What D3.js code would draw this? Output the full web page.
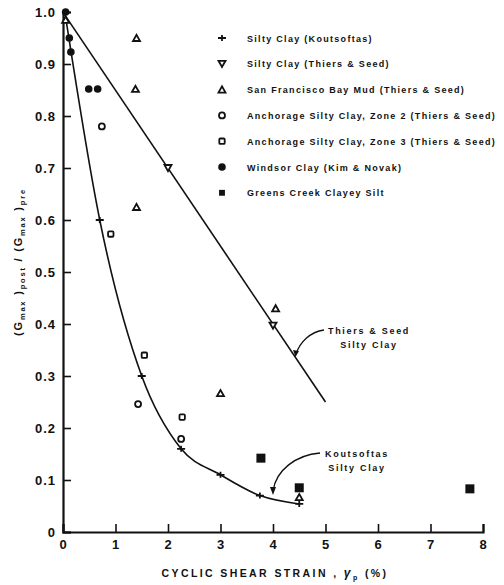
<!doctype html>
<html>
<head>
<meta charset="utf-8">
<title>Gmax ratio vs cyclic shear strain</title>
<script src="https://cdnjs.cloudflare.com/ajax/libs/d3/7.8.5/d3.min.js"></script>
<style>
  body { margin: 0; background: #fff; }
  svg text { font-family: "Liberation Sans", Arial, sans-serif; font-weight: bold; fill: #111; }
</style>
</head>
<body>
<div id="chart"></div>
<script>
// data: [strain %, ratio]
let koutsoftas = [[0.7, 0.6], [1.5, 0.3], [2.25, 0.16], [3.0, 0.11], [3.75, 0.07], [4.5, 0.054]];
let koutsoftasCurve = [[0.05, 0.99], [0.7, 0.6], [1.5, 0.3], [2.25, 0.16], [3.0, 0.11], [3.75, 0.07], [4.5, 0.054]];
let thiersSilty = [[2.0, 0.70], [4.0, 0.397]];
let thiersLine = [[0.03, 0.995], [5.0, 0.25]];
let sfBayMud = [[0.05, 0.985], [1.4, 0.95], [1.38, 0.852], [1.4, 0.625], [3.0, 0.267], [4.05, 0.43], [4.5, 0.067]];
let anchorage2 = [[0.74, 0.78], [1.43, 0.246], [2.25, 0.179]];
let anchorage3 = [[0.91, 0.573], [1.55, 0.34], [2.27, 0.221]];
let windsor = [[0.05, 1.0], [0.12, 0.95], [0.15, 0.923], [0.49, 0.852], [0.66, 0.852]];
let greensCreek = [[3.77, 0.142], [4.5, 0.085], [7.75, 0.083]];

let legendLabels = [
  "Silty Clay (Koutsoftas)",
  "Silty Clay (Thiers & Seed)",
  "San Francisco Bay Mud (Thiers & Seed)",
  "Anchorage Silty Clay, Zone 2 (Thiers & Seed)",
  "Anchorage Silty Clay, Zone 3 (Thiers & Seed)",
  "Windsor Clay (Kim & Novak)",
  "Greens Creek Clayey Silt"
];
let xTicks = [0, 1, 2, 3, 4, 5, 6, 7, 8];
let yTicks = [0, 0.1, 0.2, 0.3, 0.4, 0.5, 0.6, 0.7, 0.8, 0.9, 1.0];

let svg = d3.select("#chart").append("svg")
  .attr("width", 504)
  .attr("height", 585);

let x = d3.scaleLinear().domain([0, 8]).range([63, 483]);
let y = d3.scaleLinear().domain([0, 1]).range([532, 12]);

// axes (ticks point inward)
let yAxis = svg.append("g")
  .attr("transform", "translate(63,0)")
  .call(d3.axisLeft(y).tickValues(yTicks).tickSize(-8).tickPadding(7)
    .tickFormat(d => d === 0 ? "0" : d3.format(".1f")(d)));
let xAxis = svg.append("g")
  .attr("transform", "translate(0,532)")
  .call(d3.axisBottom(x).tickValues(xTicks).tickSize(-8).tickPadding(8));

[yAxis, xAxis].forEach(g => {
  g.select(".domain").attr("stroke", "#111").attr("stroke-width", 2.2);
  g.selectAll(".tick line").attr("stroke", "#111").attr("stroke-width", 1.6);
  g.selectAll(".tick text")
    .style("font-size", "13px").style("letter-spacing", "1px").attr("fill", "#111");
});

// fitted curves
let line = d3.line().x(d => x(d[0])).y(d => y(d[1]));
svg.append("path")
  .datum(thiersLine)
  .attr("d", line)
  .attr("fill", "none").attr("stroke", "#111").attr("stroke-width", 1.6);
svg.append("path")
  .datum(koutsoftasCurve)
  .attr("d", line.curve(d3.curveMonotoneX))
  .attr("fill", "none").attr("stroke", "#111").attr("stroke-width", 1.6);

// marker drawing
function marker(g, kind) {
  if (kind === "plus") {
    g.append("path").attr("d", "M-4,0H4M0,-3V3").attr("stroke", "#111").attr("stroke-width", 1.8);
  } else if (kind === "tdown") {
    g.append("path").attr("d", "M-3.5,-3H3.5L0,3.2Z").attr("fill", "#fff").attr("stroke", "#111").attr("stroke-width", 1.8);
  } else if (kind === "tup") {
    g.append("path").attr("d", "M-3.5,3H3.5L0,-3.2Z").attr("fill", "#fff").attr("stroke", "#111").attr("stroke-width", 1.8);
  } else if (kind === "circle") {
    g.append("circle").attr("r", 3).attr("fill", "#fff").attr("stroke", "#111").attr("stroke-width", 1.8);
  } else if (kind === "square") {
    g.append("rect").attr("x", -2.7).attr("y", -2.7).attr("width", 5.4).attr("height", 5.4).attr("rx", 1)
      .attr("fill", "#fff").attr("stroke", "#111").attr("stroke-width", 1.8);
  } else if (kind === "dot") {
    g.append("circle").attr("r", 3.8).attr("fill", "#111");
  } else if (kind === "block") {
    g.append("rect").attr("x", -4.5).attr("y", -4.5).attr("width", 9).attr("height", 9).attr("fill", "#111");
  }
}

let series = [
  { data: koutsoftas, kind: "plus" },
  { data: thiersSilty, kind: "tdown" },
  { data: sfBayMud, kind: "tup" },
  { data: anchorage2, kind: "circle" },
  { data: anchorage3, kind: "square" },
  { data: windsor, kind: "dot" },
  { data: greensCreek, kind: "block" }
];

series.forEach(s => {
  svg.append("g").selectAll("g")
    .data(s.data)
    .join("g")
    .attr("transform", d => `translate(${x(d[0])},${y(d[1])})`)
    .each(function() { marker(d3.select(this), s.kind); });
});

// legend
let legend = svg.append("g");
series.forEach((s, i) => {
  let row = legend.append("g").attr("transform", `translate(222,${38 + i * 25.8})`);
  let m = row.append("g").attr("transform", s.kind === "block" ? "scale(0.65)" : null);
  marker(m, s.kind);
  row.append("text")
    .attr("x", 25).attr("y", 3.5)
    .style("font-size", "9px").style("letter-spacing", "1.3px")
    .text(legendLabels[i]);
});

// annotations
function note(lines, tx, ty, pathD) {
  let t = svg.append("text").attr("x", tx).attr("y", ty)
    .attr("text-anchor", "middle")
    .style("font-size", "9px").style("letter-spacing", "1.7px");
  lines.forEach((l, i) => t.append("tspan").attr("x", tx).attr("dy", i ? 14 : 0).text(l));
  svg.append("path").attr("d", pathD).attr("fill", "none").attr("stroke", "#111").attr("stroke-width", 1.3);
}
note(["Thiers & Seed", "Silty Clay"], 369, 334,
  "M324,330C310,332 300,342 296,354");
svg.append("path").attr("d", "M293,350L295.5,357L299,351Z").attr("fill", "#111");
note(["Koutsoftas", "Silty Clay"], 357, 457,
  "M320,453C296,455 276,470 273,491");
svg.append("path").attr("d", "M270,487L273,495L276,487Z").attr("fill", "#111");

// axis titles
let xt = svg.append("text")
  .attr("x", 275).attr("y", 577).attr("text-anchor", "middle")
  .style("font-size", "10.5px").style("letter-spacing", "2.4px");
xt.append("tspan").text("CYCLIC SHEAR STRAIN , ");
xt.append("tspan").style("font-style", "italic").style("font-size", "12px").text("γ");
xt.append("tspan").attr("dy", 3).style("font-size", "7px").text("p");
xt.append("tspan").attr("dy", -3).text(" (%)");

let yt = svg.append("text")
  .attr("transform", "translate(22,262) rotate(-90)")
  .attr("text-anchor", "middle")
  .style("font-size", "11px").style("letter-spacing", "1.8px");
yt.append("tspan").text("(G");
yt.append("tspan").attr("dy", 3).style("font-size", "7.5px").text("max");
yt.append("tspan").attr("dy", -3).text(" )");
yt.append("tspan").attr("dy", 3).style("font-size", "7.5px").text("post");
yt.append("tspan").attr("dy", -3).text(" / (G");
yt.append("tspan").attr("dy", 3).style("font-size", "7.5px").text("max");
yt.append("tspan").attr("dy", -3).text(" )");
yt.append("tspan").attr("dy", 3).style("font-size", "7.5px").text("pre");
</script>
</body>
</html>
